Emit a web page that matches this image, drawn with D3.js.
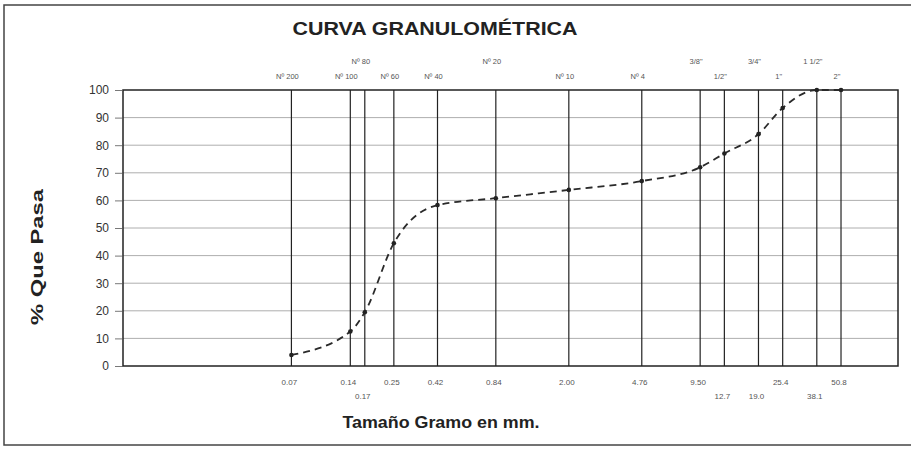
<!DOCTYPE html>
<html><head><meta charset="utf-8">
<script src="https://cdn.jsdelivr.net/npm/d3@7"></script>
<style>body{margin:0;background:#fff}svg{display:block}text{font-family:"Liberation Sans",Arial,sans-serif}</style>
</head><body><svg id="c" width="911" height="455"></svg>
<script>
// ---- data ----
const sieveSizes = [0.074, 0.149, 0.177, 0.25, 0.42, 0.84, 2.00, 4.76, 9.525, 12.7, 19.05, 25.4, 38.1, 50.8];
const sieveNames = ["Nº 200", "Nº 100", "Nº 80", "Nº 60", "Nº 40", "Nº 20", "Nº 10", "Nº 4", "3/8\"", "1/2\"", "3/4\"", "1\"", "1 1/2\"", "2\""];
const sizeLabels = ["0.07", "0.14", "0.17", "0.25", "0.42", "0.84", "2.00", "4.76", "9.50", "12.7", "19.0", "25.4", "38.1", "50.8"];
const percentPassing = [4, 12.5, 19.5, 44.5, 58.3, 60.8, 63.8, 67, 72, 77, 84, 93.5, 100, 100];
const nameRow = [0, 0, 1, 0, 0, 1, 0, 0, 1, 0, 1, 0, 1, 0];
const labelRow = [0, 0, 1, 0, 0, 0, 0, 0, 0, 1, 1, 0, 1, 0];
const yTicks = [0, 10, 20, 30, 40, 50, 60, 70, 80, 90, 100];

// ---- chart ----
const svg = d3.select("#c");
const L = 123, R = 898, T = 90, B = 366;
const x = d3.scaleLog().domain([0.01, 100]).range([L, R]);
const y = d3.scaleLinear().domain([0, 100]).range([B, T]);

// outer frame
svg.append("rect").attr("x", 4).attr("y", 5).attr("width", 930).attr("height", 440)
  .attr("fill", "none").attr("stroke", "#444").attr("stroke-width", 1.5);

// title
svg.append("text").attr("x", 435).attr("y", 35).attr("text-anchor", "middle")
  .attr("font-size", 19).attr("font-weight", "bold").attr("fill", "#222")
  .attr("textLength", 285).attr("lengthAdjust", "spacingAndGlyphs")
  .text("CURVA GRANULOMÉTRICA");

// horizontal grid
svg.append("g").selectAll("line").data(yTicks.filter(d => d > 0 && d < 100)).join("line")
  .attr("x1", L).attr("x2", R).attr("y1", d => y(d)).attr("y2", d => y(d))
  .attr("stroke", "#999").attr("stroke-width", 0.8);

// vertical sieve lines
svg.append("g").selectAll("line").data(sieveSizes).join("line")
  .attr("x1", d => x(d)).attr("x2", d => x(d)).attr("y1", T).attr("y2", B)
  .attr("stroke", "#222").attr("stroke-width", 1.2);

// border
svg.append("rect").attr("x", L).attr("y", T).attr("width", R - L).attr("height", B - T)
  .attr("fill", "none").attr("stroke", "#222").attr("stroke-width", 1.5);

// y axis
const ya = svg.append("g").attr("transform", `translate(${L},0)`)
  .call(d3.axisLeft(y).tickValues(yTicks).tickSize(8).tickPadding(6));
ya.select(".domain").remove();
ya.selectAll(".tick line").attr("stroke", "#555").attr("stroke-width", 0.8);
ya.selectAll(".tick text").attr("font-size", 12).attr("fill", "#333")
  .style("font-family", "'Liberation Sans', Arial, sans-serif");

// top sieve names
svg.append("g").selectAll("text").data(sieveSizes).join("text")
  .attr("x", d => x(d) - 4).attr("y", (d, i) => nameRow[i] ? 64 : 79)
  .attr("text-anchor", "middle").attr("font-size", 7.5).attr("fill", "#555")
  .text((d, i) => sieveNames[i]);

// bottom size labels
svg.append("g").selectAll("text").data(sieveSizes).join("text")
  .attr("x", d => x(d) - 2).attr("y", (d, i) => labelRow[i] ? 399 : 385)
  .attr("text-anchor", "middle").attr("font-size", 8).attr("fill", "#555")
  .text((d, i) => sizeLabels[i]);

// axis titles
svg.append("text").attr("transform", "translate(43,257) rotate(-90)")
  .attr("text-anchor", "middle").attr("font-size", 17).attr("font-weight", "bold").attr("fill", "#222")
  .attr("textLength", 136).attr("lengthAdjust", "spacingAndGlyphs")
  .text("% Que Pasa");
svg.append("text").attr("x", 441).attr("y", 428)
  .attr("text-anchor", "middle").attr("font-size", 17).attr("font-weight", "bold").attr("fill", "#222")
  .attr("textLength", 197).attr("lengthAdjust", "spacingAndGlyphs")
  .text("Tamaño Gramo en mm.");

// curve
const pts = sieveSizes.map((s, i) => [x(s), y(percentPassing[i])]);
svg.append("path").attr("d", d3.line().curve(d3.curveMonotoneX)(pts))
  .attr("fill", "none").attr("stroke", "#2a2a2a").attr("stroke-width", 1.8)
  .attr("stroke-dasharray", "7,5");
svg.append("g").selectAll("circle").data(pts).join("circle")
  .attr("cx", d => d[0]).attr("cy", d => d[1]).attr("r", 2.3).attr("fill", "#222");
</script></body></html>
